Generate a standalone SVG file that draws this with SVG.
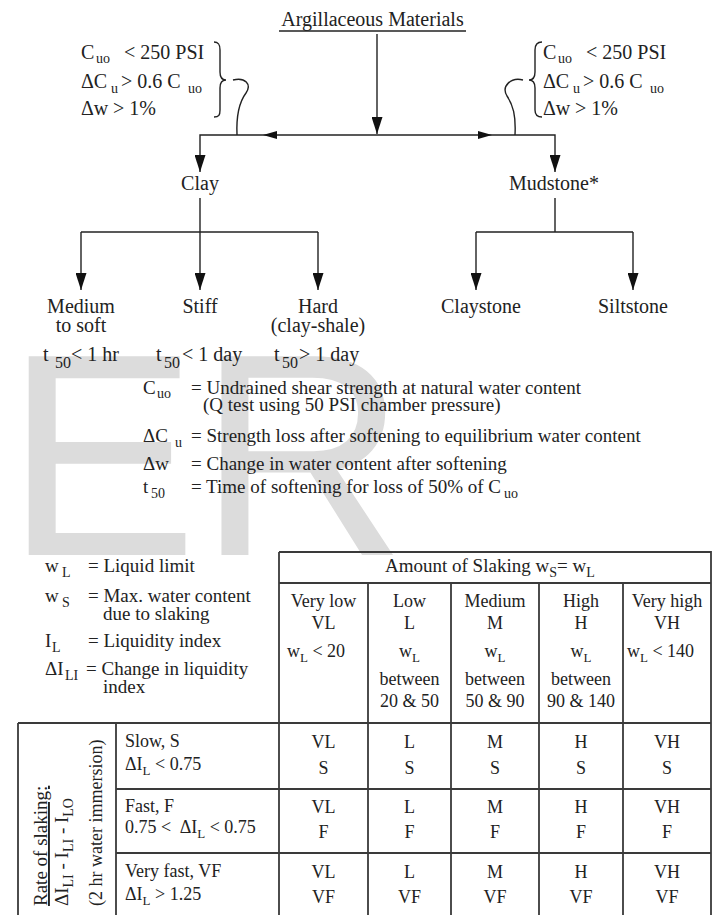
<svg xmlns="http://www.w3.org/2000/svg" width="719" height="915" viewBox="0 0 719 915">
<defs>
<style>
.t{font-family:'Liberation Serif','DejaVu Serif',serif;fill:#222}
.f20{font-size:20px}.f19{font-size:19px}.f18{font-size:18px}
.sb{font-size:14px}.sb13{font-size:13px}
.m{text-anchor:middle}
.ln{stroke:#222;stroke-width:1.4;fill:none}
.tbl{stroke:#3a3a3a;stroke-width:1.8;fill:none}
.wm{font-family:'Liberation Sans',Arial,sans-serif;font-size:289px;fill:#dcdcdc}
</style>
<marker id="ah" markerUnits="userSpaceOnUse" markerWidth="17" markerHeight="11" viewBox="0 0 17 11" refX="17" refY="5.5" orient="auto"><path d="M0,0 L17,5.5 L0,11 z" fill="#111"/></marker>
<marker id="ah2" markerUnits="userSpaceOnUse" markerWidth="14" markerHeight="8" viewBox="0 0 14 8" refX="14" refY="4" orient="auto"><path d="M0,0 L14,4 L0,8 z" fill="#111"/></marker>
</defs>
<rect width="719" height="915" fill="#fff"/>
<text class="wm" x="5" y="555">ER</text>

<g id="connectors">
<path class="ln" d="M377,34 V134" marker-end="url(#ah)"/>
<path class="ln" d="M377,135 H263" marker-end="url(#ah2)"/>
<path class="ln" d="M377,135 H492" marker-end="url(#ah2)"/>
<path class="ln" d="M263,135 H200 V172" marker-end="url(#ah)"/>
<path class="ln" d="M492,135 H555 V172" marker-end="url(#ah)"/>
<path class="ln" d="M200,198 V290" marker-end="url(#ah)"/>
<path class="ln" d="M81,232 H318"/>
<path class="ln" d="M81,232 V290" marker-end="url(#ah)"/>
<path class="ln" d="M318,232 V290" marker-end="url(#ah)"/>
<path class="ln" d="M555,198 V232 M476,232 H633"/>
<path class="ln" d="M476,232 V290" marker-end="url(#ah)"/>
<path class="ln" d="M633,232 V290" marker-end="url(#ah)"/>
<path class="ln" d="M214,42 C219,42 220,45 220,50 L220,72 C220,77 222,80 226,80 C222,80 220,83 220,88 L220,110 C220,115 219,117 214,117"/>
<path class="ln" d="M233,80 C245,77 252,84 246,93 C240,101 236,112 237,135"/>
<path class="ln" d="M542,42 C537,42 535,45 535,50 L535,72 C535,77 533,80 529,80 C533,80 535,83 535,88 L535,110 C535,115 537,117 542,117"/>
<path class="ln" d="M523,80 C511,77 501,86 507,96 C513,105 516,115 515,135"/>
</g>

<g id="title">
<text class="t f20 m" x="372.5" y="26">Argillaceous Materials</text>
<line class="ln" x1="279" y1="31" x2="466" y2="31"/>
</g>

<g id="cond-left" class="t f20">
<text x="81" y="59">C<tspan class="sb" x="96" y="63">uo</tspan><tspan x="124" y="59">&lt; 250 PSI</tspan></text>
<text x="81" y="88">ΔC<tspan class="sb" x="111" y="93">u</tspan><tspan x="121" y="88">&gt; 0.6 C</tspan><tspan class="sb" x="188" y="93">uo</tspan></text>
<text x="81" y="115">Δw<tspan x="113" y="115">&gt; 1%</tspan></text>
</g>

<g id="cond-right" class="t f20">
<text x="543" y="59">C<tspan class="sb" x="558" y="63">uo</tspan><tspan x="586" y="59">&lt; 250 PSI</tspan></text>
<text x="543" y="88">ΔC<tspan class="sb" x="573" y="93">u</tspan><tspan x="583" y="88">&gt; 0.6 C</tspan><tspan class="sb" x="650" y="93">uo</tspan></text>
<text x="543" y="115">Δw<tspan x="575" y="115">&gt; 1%</tspan></text>
</g>

<g id="clay"><text class="t f20 m" x="200" y="190">Clay</text></g>
<g id="mudstone"><text class="t f20 m" x="554" y="190">Mudstone*</text></g>
<g id="medium"><text class="t f20 m" x="81" y="313">Medium</text><text class="t f20 m" x="81" y="332">to soft</text></g>
<g id="stiff"><text class="t f20 m" x="200" y="313">Stiff</text></g>
<g id="hard"><text class="t f20 m" x="318" y="313">Hard</text><text class="t f20 m" x="318" y="332">(clay-shale)</text></g>
<g id="claystone"><text class="t f20 m" x="481" y="313">Claystone</text></g>
<g id="siltstone"><text class="t f20 m" x="633" y="313">Siltstone</text></g>

<g id="t50-row" class="t f20">
<text x="43" y="361">t<tspan style="font-size:16px" x="55" y="368">50</tspan><tspan x="71" y="361">&lt; 1 hr</tspan></text>
<text x="156" y="361">t<tspan style="font-size:16px" x="164" y="368">50</tspan><tspan x="182" y="361">&lt; 1 day</tspan></text>
<text x="274" y="361">t<tspan style="font-size:16px" x="282" y="368">50</tspan><tspan x="299" y="361">&gt; 1 day</tspan></text>
</g>

<g id="definitions" class="t f19">
<text x="143" y="394">C<tspan class="sb" x="157" y="398">uo</tspan><tspan x="191" y="394">= Undrained shear strength at natural water content</tspan></text>
<text x="203" y="411">(Q test using 50 PSI chamber pressure)</text>
<text x="143" y="442">ΔC<tspan class="sb" x="175" y="447">u</tspan><tspan x="191" y="442">= Strength loss after softening to equilibrium water content</tspan></text>
<text x="143" y="470">Δw<tspan x="191" y="470">= Change in water content after softening</tspan></text>
<text x="143" y="493">t<tspan class="sb" x="151" y="498">50</tspan><tspan x="191" y="493">= Time of softening for loss of 50% of C</tspan><tspan class="sb" dx="3" dy="5">uo</tspan></text>
</g>

<g id="legend" class="t f19">
<text x="45" y="572">w<tspan class="sb" x="62" y="577">L</tspan><tspan x="88" y="572">= Liquid limit</tspan></text>
<text x="45" y="602">w<tspan class="sb" x="62" y="607">S</tspan><tspan x="88" y="602">= Max. water content</tspan></text>
<text x="103" y="620">due to slaking</text>
<text x="45" y="647">I<tspan class="sb" x="52" y="652">L</tspan><tspan x="88" y="647">= Liquidity index</tspan></text>
<text x="45" y="675">ΔI<tspan class="sb" x="65" y="680">LI</tspan><tspan x="86" y="675">= Change in liquidity</tspan></text>
<text x="103" y="693">index</text>
</g>

<g id="table">
<path class="tbl" d="M279,552 H711 V915 M279,552 V915 M279,583 H711 M368,583 V915 M451,583 V915 M539,583 V915 M623,583 V915 M18,723 H711 M18,723 V915 M116,723 V915 M116,789 H711 M116,853 H711"/>
</g>

<g id="table-header" class="t f19">
<text x="385" y="572">Amount of Slaking w<tspan class="sb" dy="5">S</tspan><tspan dy="-5">= w</tspan><tspan class="sb" dy="5">L</tspan></text>
</g>

<g id="col-heads" class="t f18">
<text class="m" x="323.5" y="607">Very low</text>
<text class="m" x="323.5" y="629">VL</text>
<text x="287" y="657">w<tspan class="sb13" dy="5">L</tspan><tspan dy="-5"> &lt; 20</tspan></text>
<text class="m" x="409.5" y="607">Low</text>
<text class="m" x="409.5" y="629">L</text>
<text class="m" x="409.5" y="657">w<tspan class="sb13" dy="5">L</tspan></text>
<text class="m" x="409.5" y="685">between</text>
<text class="m" x="409.5" y="707">20 &amp; 50</text>
<text class="m" x="495" y="607">Medium</text>
<text class="m" x="495" y="629">M</text>
<text class="m" x="495" y="657">w<tspan class="sb13" dy="5">L</tspan></text>
<text class="m" x="495" y="685">between</text>
<text class="m" x="495" y="707">50 &amp; 90</text>
<text class="m" x="581" y="607">High</text>
<text class="m" x="581" y="629">H</text>
<text class="m" x="581" y="657">w<tspan class="sb13" dy="5">L</tspan></text>
<text class="m" x="581" y="685">between</text>
<text class="m" x="581" y="707">90 &amp; 140</text>
<text class="m" x="667" y="607">Very high</text>
<text class="m" x="667" y="629">VH</text>
<text x="627" y="657">w<tspan class="sb13" dy="5">L</tspan><tspan dy="-5"> &lt; 140</tspan></text>
</g>

<g id="rate-label" class="t">
<text class="f19" transform="translate(47,906) rotate(-90)" style="text-decoration:underline">Rate of slaking:</text>
<text class="f19" transform="translate(68,906) rotate(-90)">ΔI<tspan class="sb" dy="5">LI</tspan><tspan dy="-5"> - I</tspan><tspan class="sb" dy="5">LI</tspan><tspan dy="-5"> - I</tspan><tspan class="sb" dy="5">LO</tspan></text>
<text class="f18" transform="translate(102,906) rotate(-90)">(2 hr water immersion)</text>
</g>

<g id="row-labels" class="t f18">
<text x="125" y="747">Slow, S</text>
<text x="125" y="770">ΔI<tspan class="sb13" dy="5">L</tspan><tspan dy="-5"> &lt; 0.75</tspan></text>
<text x="125" y="812">Fast, F</text>
<text x="125" y="833">0.75 &lt; <tspan dx="5">ΔI</tspan><tspan class="sb13" dy="5">L</tspan><tspan dy="-5"> &lt; 0.75</tspan></text>
<text x="125" y="877">Very fast, VF</text>
<text x="125" y="900">ΔI<tspan class="sb13" dy="5">L</tspan><tspan dy="-5"> &gt; 1.25</tspan></text>
</g>

<g id="cells" class="t f18 m">
<text x="323.5" y="748">VL</text><text x="323.5" y="774">S</text>
<text x="409.5" y="748">L</text><text x="409.5" y="774">S</text>
<text x="495" y="748">M</text><text x="495" y="774">S</text>
<text x="581" y="748">H</text><text x="581" y="774">S</text>
<text x="667" y="748">VH</text><text x="667" y="774">S</text>
<text x="323.5" y="813">VL</text><text x="323.5" y="838">F</text>
<text x="409.5" y="813">L</text><text x="409.5" y="838">F</text>
<text x="495" y="813">M</text><text x="495" y="838">F</text>
<text x="581" y="813">H</text><text x="581" y="838">F</text>
<text x="667" y="813">VH</text><text x="667" y="838">F</text>
<text x="323.5" y="878">VL</text><text x="323.5" y="903">VF</text>
<text x="409.5" y="878">L</text><text x="409.5" y="903">VF</text>
<text x="495" y="878">M</text><text x="495" y="903">VF</text>
<text x="581" y="878">H</text><text x="581" y="903">VF</text>
<text x="667" y="878">VH</text><text x="667" y="903">VF</text>
</g>
</svg>
